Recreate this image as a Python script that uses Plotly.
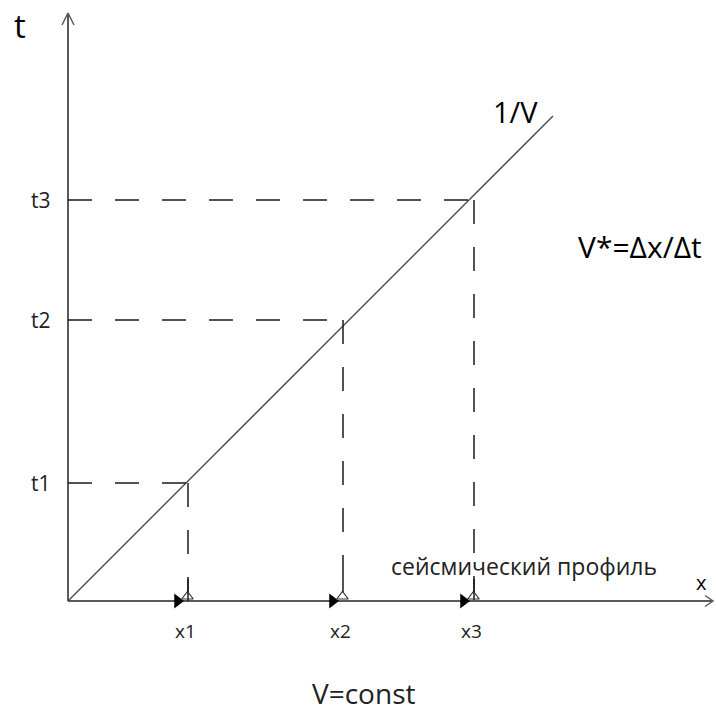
import plotly.graph_objects as go

# values (arbitrary units, origin at axes crossing)
x_labels = ["x1", "x2", "x3"]
t_labels = ["t1", "t2", "t3"]
x_pos = [12.0, 27.5, 40.6]
t_pos = [11.8, 28.1, 40.1]
V = 1.0
line_x = [0.0, 48.5]
axis_x_end = 64.5
axis_t_end = 58.8

FONT = "Open Sans"
DARK = "#1a1a1a"
AXIS = "#5a5a5a"

fig = go.Figure()

# axes
fig.add_trace(go.Scatter(x=[0, 0], y=[0, axis_t_end], mode="lines",
                         line=dict(color=AXIS, width=2), hoverinfo="skip"))
fig.add_trace(go.Scatter(x=[0, axis_x_end], y=[0, 0], mode="lines",
                         line=dict(color=AXIS, width=2), hoverinfo="skip"))
# arrow heads (open chevrons)
fig.add_trace(go.Scatter(x=[-0.6, 0, 0.6], y=[axis_t_end - 1.2, axis_t_end, axis_t_end - 1.2],
                         mode="lines", line=dict(color=AXIS, width=1.5), hoverinfo="skip"))
fig.add_trace(go.Scatter(x=[axis_x_end - 0.8, axis_x_end, axis_x_end - 0.8], y=[0.55, 0, -0.55],
                         mode="lines", line=dict(color=AXIS, width=1.5), hoverinfo="skip"))

# 1/V line
fig.add_trace(go.Scatter(x=line_x, y=[v / V for v in line_x], mode="lines",
                         line=dict(color="#444444", width=1.3), hoverinfo="skip"))

# dashed guides
for xp, tp in zip(x_pos, t_pos):
    fig.add_trace(go.Scatter(x=[0, xp], y=[tp, tp], mode="lines",
                             line=dict(color=DARK, width=1.5, dash="24px,23px"), hoverinfo="skip"))
    fig.add_trace(go.Scatter(x=[xp, xp], y=[tp, 0], mode="lines",
                             line=dict(color=DARK, width=1.5, dash="24px,23px"), hoverinfo="skip"))

# receiver markers
fig.add_trace(go.Scatter(x=[xp - 1.05 for xp in x_pos], y=[0] * 3, mode="markers",
                         marker=dict(symbol="triangle-right", size=13, color="black"),
                         hoverinfo="skip"))
fig.add_trace(go.Scatter(x=[xp - 0.05 for xp in x_pos], y=[0.45] * 3, mode="markers",
                         marker=dict(symbol="triangle-up-open", size=10, color="#333333",
                                     line=dict(width=1.2)),
                         hoverinfo="skip"))
for xp in x_pos:
    fig.add_trace(go.Scatter(x=[xp, xp], y=[0.9, 2.2], mode="lines",
                             line=dict(color=DARK, width=1.5), hoverinfo="skip"))

ann = []
for lab, tp in zip(t_labels, t_pos):
    ann.append(dict(x=-1.5, y=tp, text=lab, xanchor="right", yanchor="middle",
                    font=dict(size=21, color="#222")))
for lab, xp in zip(x_labels, x_pos):
    ann.append(dict(x=xp - 0.3, y=-3.0, text=lab, xanchor="center", yanchor="middle",
                    font=dict(size=19, color="#222")))
ann += [
    dict(x=-4.8, y=57.6, text="t", xanchor="center", yanchor="middle",
         font=dict(size=33, color="black")),
    dict(x=44.7, y=49.0, text="1/V", xanchor="center", yanchor="middle",
         font=dict(size=29, color="black")),
    dict(x=57.2, y=35.5, text="V*=Δx/Δt", xanchor="center", yanchor="middle",
         font=dict(size=30, color="black")),
    dict(x=45.6, y=3.5, text="сейсмический профиль", xanchor="center", yanchor="middle",
         font=dict(size=23, color="#222")),
    dict(x=63.3, y=1.9, text="x", xanchor="center", yanchor="middle",
         font=dict(size=20, color="black")),
    dict(x=29.5, y=-9.2, text="V=const", xanchor="center", yanchor="middle",
         font=dict(size=28, color="#222")),
]
for a in ann:
    a["showarrow"] = False
    a["xref"] = "x"
    a["yref"] = "y"

fig.update_layout(
    width=716, height=711,
    margin=dict(l=0, r=0, t=0, b=0),
    paper_bgcolor="white", plot_bgcolor="white",
    showlegend=False,
    hovermode=False,
    font=dict(family=FONT),
    xaxis=dict(range=[-6.8, 64.8], visible=False, fixedrange=True),
    yaxis=dict(range=[-11.0, 60.1], visible=False, fixedrange=True),
    annotations=ann,
)

# remove the default page margin so the figure fills the window exactly
fig.write_html("out.html",
               config={"displayModeBar": False, "staticPlot": True},
               post_script="document.body.style.margin='0';document.body.style.overflow='hidden';")
